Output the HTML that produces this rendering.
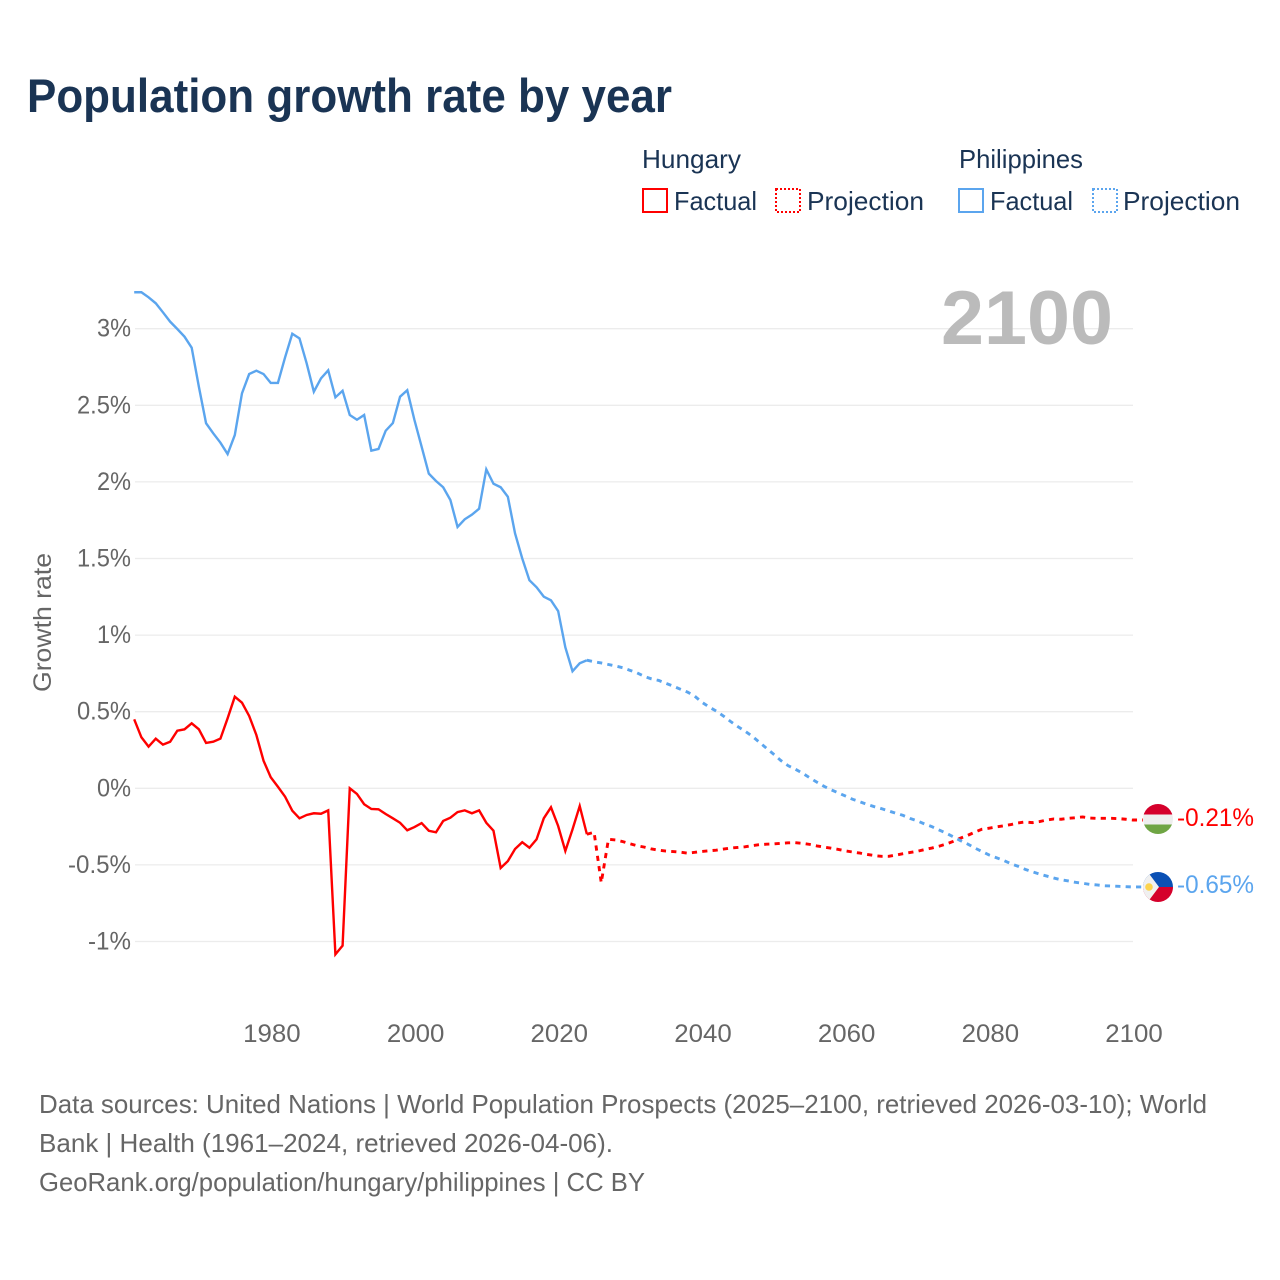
<!DOCTYPE html>
<html lang="en">
<head>
<meta charset="utf-8">
<title>Population growth rate by year</title>
<style>
html,body{margin:0;padding:0;background:#fff;width:1280px;height:1280px;overflow:hidden}
svg{display:block}
text{font-family:"Liberation Sans",sans-serif}
</style>
</head>
<body>
<svg id="chart" xmlns="http://www.w3.org/2000/svg" width="1280" height="1280" viewBox="0 0 1280 1280">
  <defs>
    <clipPath id="clip-hu"><circle cx="1158" cy="819" r="15"/></clipPath>
    <clipPath id="clip-ph"><circle cx="1158" cy="887" r="15"/></clipPath>
  </defs>
  <rect width="1280" height="1280" fill="#fff"/>
  <text x="27" y="112" font-size="47" font-weight="bold" fill="#1a3454" textLength="645" lengthAdjust="spacingAndGlyphs">Population growth rate by year</text>

  <g font-size="26" fill="#1a3454">
    <text x="642" y="168" textLength="99" lengthAdjust="spacingAndGlyphs">Hungary</text>
    <text x="959" y="168" textLength="124" lengthAdjust="spacingAndGlyphs">Philippines</text>
    <rect x="643" y="189" width="24" height="23" fill="none" stroke="#ff0000" stroke-width="2"/>
    <text x="674" y="210" textLength="83" lengthAdjust="spacingAndGlyphs">Factual</text>
    <rect x="776" y="189" width="24" height="23" fill="none" stroke="#ff0000" stroke-width="2" stroke-dasharray="2 2"/>
    <text x="807" y="210" textLength="117" lengthAdjust="spacingAndGlyphs">Projection</text>
    <rect x="959" y="189" width="24" height="23" fill="none" stroke="#5ba5ee" stroke-width="2"/>
    <text x="990" y="210" textLength="83" lengthAdjust="spacingAndGlyphs">Factual</text>
    <rect x="1093" y="189" width="24" height="23" fill="none" stroke="#5ba5ee" stroke-width="2" stroke-dasharray="2 2"/>
    <text x="1123" y="210" textLength="117" lengthAdjust="spacingAndGlyphs">Projection</text>
  </g>

  <g id="grid"></g>
  <g id="yticks" font-size="25" fill="#666"></g>
  <g id="xticks" font-size="25" fill="#666"></g>
  <text transform="translate(51,692) rotate(-90)" font-size="25" fill="#666" textLength="139" lengthAdjust="spacingAndGlyphs">Growth rate</text>
  <text x="941" y="344" font-size="76" font-weight="bold" fill="#bbbbbb" textLength="172" lengthAdjust="spacingAndGlyphs">2100</text>

  <g id="series"></g>

  <g clip-path="url(#clip-hu)">
    <rect x="1143" y="804" width="30" height="10.5" fill="#d5002b"/>
    <rect x="1143" y="814.5" width="30" height="10" fill="#eeeeee"/>
    <rect x="1143" y="824.5" width="30" height="10" fill="#6fa544"/>
  </g>
  <g clip-path="url(#clip-ph)">
    <rect x="1143" y="872" width="30" height="15" fill="#0a50b4"/>
    <rect x="1143" y="887" width="30" height="15" fill="#d5002b"/>
    <path d="M1159 887 L1147.75 872 L1143 872 L1143 902 L1147.75 902 Z" fill="#f0f0f0"/>
    <circle cx="1149" cy="887" r="3.8" fill="#fcd34d"/>
  </g>
  <text x="1177" y="826" font-size="25" fill="#ff0000" textLength="77" lengthAdjust="spacingAndGlyphs">-0.21%</text>
  <text x="1177" y="893" font-size="25" fill="#5ba5ee" textLength="77" lengthAdjust="spacingAndGlyphs">-0.65%</text>

  <g font-size="26" fill="#666">
    <text x="39" y="1113" textLength="1168" lengthAdjust="spacingAndGlyphs">Data sources: United Nations | World Population Prospects (2025–2100, retrieved 2026-03-10); World</text>
    <text x="39" y="1152" textLength="574" lengthAdjust="spacingAndGlyphs">Bank | Health (1961–2024, retrieved 2026-04-06).</text>
    <text x="39" y="1191" textLength="606" lengthAdjust="spacingAndGlyphs">GeoRank.org/population/hungary/philippines | CC BY</text>
  </g>
</svg>
<script>
const yTickValues = [3, 2.5, 2, 1.5, 1, 0.5, 0, -0.5, -1];
const yTickLabels = ['3%', '2.5%', '2%', '1.5%', '1%', '0.5%', '0%', '-0.5%', '-1%'];
const yTickWidths = [34, 54, 34, 54, 34, 54, 34, 63, 43];
const xTickYears = [1980, 2000, 2020, 2040, 2060, 2080, 2100];

const factualStartYear = 1961;
const projectionStartYear = 2025;

const hungaryFactual = [
  0.450,0.333,0.272,0.324,0.285,0.304,0.376,0.385,0.424,
  0.385,0.296,0.304,0.324,0.457,0.598,0.559,0.472,0.348,0.180,
  0.072,0.010,-0.055,-0.146,-0.196,-0.174,-0.163,-0.166,-0.144,-1.084,
  -1.027,0,-0.037,-0.104,-0.135,-0.137,-0.168,-0.196,-0.225,-0.274,
  -0.253,-0.227,-0.277,-0.287,-0.213,-0.192,-0.155,-0.144,-0.163,-0.144,
  -0.225,-0.277,-0.520,-0.475,-0.396,-0.352,-0.388,-0.333,-0.196,-0.124,
  -0.246,-0.409,-0.268,-0.116,-0.300
];
const hungaryProjection = [
  -0.287,-0.616,-0.333,-0.337,
  -0.348,-0.362,-0.375,-0.384,-0.396,-0.404,-0.410,-0.413,-0.417,-0.423,
  -0.418,-0.412,-0.408,-0.404,-0.397,-0.390,-0.386,-0.382,-0.374,-0.368,
  -0.365,-0.363,-0.359,-0.356,-0.355,-0.359,-0.366,-0.376,-0.384,-0.391,
  -0.399,-0.409,-0.416,-0.423,-0.432,-0.439,-0.444,-0.444,-0.436,-0.427,
  -0.419,-0.411,-0.400,-0.390,-0.378,-0.364,-0.346,-0.325,-0.307,-0.286,
  -0.267,-0.260,-0.252,-0.245,-0.237,-0.226,-0.220,-0.224,-0.217,-0.207,
  -0.200,-0.202,-0.196,-0.192,-0.187,-0.194,-0.196,-0.196,-0.196,-0.198,
  -0.202,-0.207
];
const philippinesFactual = [
  3.238,3.238,3.205,3.166,3.107,3.046,2.998,2.948,2.876,
  2.621,2.383,2.317,2.256,2.182,2.306,2.578,2.704,2.726,2.704,
  2.646,2.646,2.813,2.967,2.937,2.774,2.589,2.676,2.728,2.552,
  2.595,2.437,2.406,2.437,2.204,2.215,2.334,2.384,2.556,2.598,
  2.404,2.230,2.054,2.006,1.965,1.882,1.706,1.756,1.786,1.825,
  2.082,1.988,1.965,1.903,1.664,1.501,1.358,1.312,1.251,1.227,
  1.157,0.920,0.764,0.816,0.836
];
const philippinesProjection = [
  0.826,0.818,0.808,0.798,
  0.787,0.770,0.753,0.730,0.714,0.704,0.685,0.667,0.647,0.628,
  0.602,0.562,0.531,0.504,0.472,0.436,0.403,0.373,0.340,0.301,
  0.261,0.222,0.181,0.148,0.125,0.099,0.069,0.040,0.013,-0.010,
  -0.030,-0.051,-0.072,-0.088,-0.105,-0.120,-0.133,-0.148,-0.163,-0.177,
  -0.197,-0.213,-0.233,-0.250,-0.272,-0.293,-0.317,-0.342,-0.364,-0.390,
  -0.413,-0.436,-0.453,-0.471,-0.492,-0.509,-0.529,-0.545,-0.560,-0.573,
  -0.586,-0.597,-0.605,-0.614,-0.620,-0.627,-0.631,-0.636,-0.638,-0.640,
  -0.642,-0.644
];

const NS = 'http://www.w3.org/2000/svg';
function xScale(year) { return 134.2 + (year - 1961) * (1133 - 134.2) / (2100 - 1961); }
function yScale(v) { return 788.3 - v * 153.2; }
function xLabelCenter(year) { return 135.2 + (year - 1961) * (1133.8 - 135.2) / (2100 - 1961); }

const gridG = document.getElementById('grid');
const yG = document.getElementById('yticks');
const xG = document.getElementById('xticks');
const seriesG = document.getElementById('series');

yTickValues.forEach(function (v, i) {
  const l = document.createElementNS(NS, 'line');
  
  
  l.setAttribute('x1', 135);
  l.setAttribute('x2', 1133);
  l.setAttribute('y1', yScale(v));
  l.setAttribute('y2', yScale(v));
  l.setAttribute('stroke', '#ececec');
  l.setAttribute('stroke-width', '1.3');
  gridG.appendChild(l);
  const t = document.createElementNS(NS, 'text');
  
  
  t.setAttribute('x', 131 - yTickWidths[i]);
  t.setAttribute('y', yScale(v) + 8);
  t.setAttribute('textLength', yTickWidths[i]);
  t.setAttribute('lengthAdjust', 'spacingAndGlyphs');
  t.textContent = yTickLabels[i];
  yG.appendChild(t);
});

xTickYears.forEach(function (yr) {
  const t = document.createElementNS(NS, 'text');
  
  
  t.setAttribute('x', xLabelCenter(yr) - 28.5);
  t.setAttribute('y', 1042);
  t.setAttribute('textLength', 57.5);
  t.setAttribute('lengthAdjust', 'spacingAndGlyphs');
  t.textContent = String(yr);
  xG.appendChild(t);
});

function pathFrom(values, startYear, prefix, suffix) {
  const pts = (prefix || []).slice();
  values.forEach(function (v, i) {
    pts.push(xScale(startYear + i).toFixed(2) + ',' + yScale(v).toFixed(2));
  });
  return 'M' + pts.concat(suffix || []).join(' L');
}
function point(year, v) {
  return xScale(year).toFixed(2) + ',' + yScale(v).toFixed(2);
}

const hfPath = document.createElementNS(NS, 'path');


hfPath.setAttribute('d', pathFrom(hungaryFactual, factualStartYear));
hfPath.setAttribute('fill', 'none');
hfPath.setAttribute('stroke', '#ff0000');
hfPath.setAttribute('stroke-width', '2.4');
hfPath.setAttribute('stroke-linejoin', 'miter');
seriesG.appendChild(hfPath);

const pfPath = document.createElementNS(NS, 'path');


pfPath.setAttribute('d', pathFrom(philippinesFactual, factualStartYear));
pfPath.setAttribute('fill', 'none');
pfPath.setAttribute('stroke', '#5ba5ee');
pfPath.setAttribute('stroke-width', '2.4');
pfPath.setAttribute('stroke-linejoin', 'miter');
seriesG.appendChild(pfPath);

const hpPath = document.createElementNS(NS, 'path');


hpPath.setAttribute('d', pathFrom(hungaryProjection, projectionStartYear,
  [point(2024, hungaryFactual[hungaryFactual.length - 1])],
  ['1143,' + yScale(hungaryProjection[hungaryProjection.length - 1]).toFixed(2)]));
hpPath.setAttribute('fill', 'none');
hpPath.setAttribute('stroke', '#ff0000');
hpPath.setAttribute('stroke-width', '2.9');
hpPath.setAttribute('stroke-dasharray', '5.2 5.2');
seriesG.appendChild(hpPath);

const ppPath = document.createElementNS(NS, 'path');


ppPath.setAttribute('d', pathFrom(philippinesProjection, projectionStartYear,
  [point(2024, philippinesFactual[philippinesFactual.length - 1])],
  ['1143,' + yScale(philippinesProjection[philippinesProjection.length - 1]).toFixed(2)]));
ppPath.setAttribute('fill', 'none');
ppPath.setAttribute('stroke', '#5ba5ee');
ppPath.setAttribute('stroke-width', '2.9');
ppPath.setAttribute('stroke-dasharray', '5.2 5.2');
seriesG.appendChild(ppPath);
</script>
</body>
</html>
